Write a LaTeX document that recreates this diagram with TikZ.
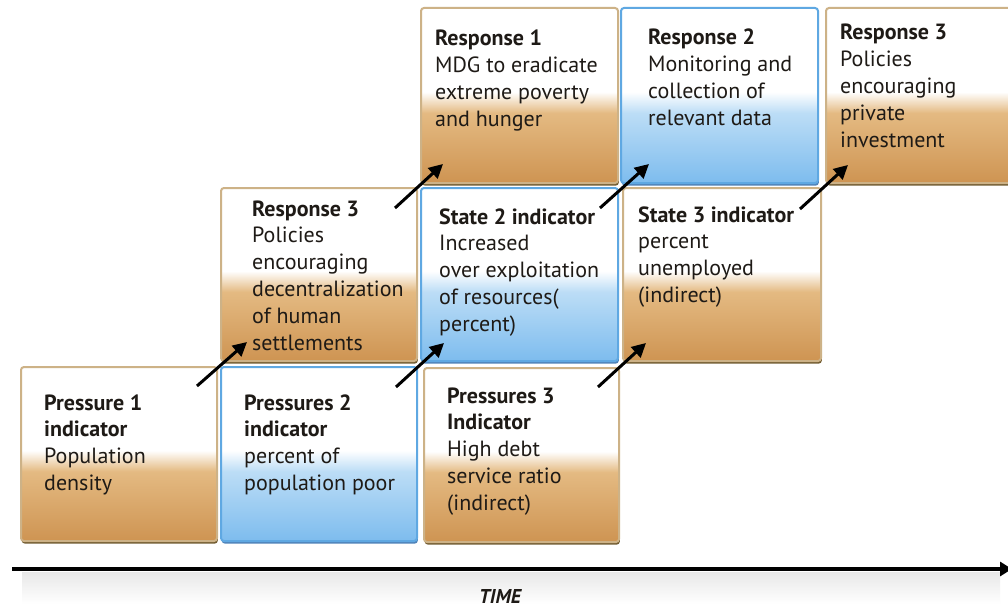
\documentclass[tikz,border=0pt]{standalone}
\usepackage{fontspec}
\setmainfont{PT Sans}
\usetikzlibrary{arrows.meta,shadows}
\definecolor{tanD}{RGB}{206,148,82}
\definecolor{tanM}{RGB}{228,186,130}
\definecolor{tanE}{RGB}{205,178,135}
\definecolor{tanS}{RGB}{100,76,28}
\definecolor{bluD}{RGB}{125,188,238}
\definecolor{bluM}{RGB}{188,221,246}
\definecolor{bluE}{RGB}{95,168,226}
\definecolor{bluS}{RGB}{60,118,178}
\definecolor{ink}{RGB}{30,26,22}
\pgfdeclareverticalshading{tanshade}{100bp}{color(0bp)=(tanD); color(25bp)=(tanD); color(45bp)=(tanM); color(51bp)=(white); color(75bp)=(white); color(100bp)=(white)}
\pgfdeclareverticalshading{blushade}{100bp}{color(0bp)=(bluD); color(25bp)=(bluD); color(45bp)=(bluM); color(51bp)=(white); color(75bp)=(white); color(100bp)=(white)}
\tikzset{
  box/.style={rectangle, rounded corners=3pt, line width=2pt, anchor=north west,
    minimum width=#1, minimum height=174pt, inner sep=0pt},
  box/.default=196pt,
  tanbox/.style={box=#1, draw=tanE, shading=tanshade,
    drop shadow={shadow xshift=0.8pt, shadow yshift=-2.6pt, fill=tanS, opacity=0.9}},
  tanbox/.default=196pt,
  blubox/.style={box=#1, draw=bluE, shading=blushade,
    drop shadow={shadow xshift=0.8pt, shadow yshift=-2.6pt, fill=bluS, opacity=0.9}},
  blubox/.default=196pt,
  txt/.style={anchor=base west, align=left, inner sep=0pt, text=ink,
    font=\fontsize{22}{26.8}\selectfont},
  conn/.style={line width=3pt, draw=black, -{Triangle[length=14pt,width=14pt]}},
  timeline/.style={line width=3.2pt, draw=black, -{Triangle[length=12pt,width=14pt]}},
}
\begin{document}
\begin{tikzpicture}[x=1pt,y=-1pt]
\useasboundingbox (0,0) rectangle (1008,607);
\clip (0,0) rectangle (1008,607);
\fill[white] (0,0) rectangle (1008,607);
% time band
\shade[top color=black!9, bottom color=white] (22,572) rectangle (1000,604);
% boxes row 1
\node[tanbox] (p1) at (20,366) {};
\node[blubox] (p2) at (220,366) {};
\node[tanbox=195pt] (p3) at (423,367) {};
% row 2
\node[tanbox=196pt, minimum height=173pt] (r3a) at (220,187) {};
\node[blubox=197pt, minimum height=173pt] (s2) at (420,187) {};
\node[tanbox=198pt, minimum height=173pt] (s3) at (622,187) {};
% row 3
\node[tanbox=197pt, minimum height=175pt] (r1) at (420,7) {};
\node[blubox=197pt, minimum height=175pt] (r2) at (620,7) {};
\node[tanbox=200pt, minimum height=175pt] (r3b) at (825,7) {};
% texts (anchored at the baseline of their last line)
\node[txt] (t1) at (44,490.4) {\textbf{Pressure 1}\\\textbf{indicator}\\Population\\density};
\node[txt] (t2) at (244,490.4) {\textbf{Pressures 2}\\\textbf{indicator}\\percent of\\population poor};
\node[txt] (t3) at (447,510.2) {\textbf{Pressures 3}\\\textbf{Indicator}\\High debt\\service ratio\\(indirect)};
\node[txt] (t4) at (252,350) {\textbf{Response 3}\\Policies\\encouraging\\decentralization\\of human\\settlements};
\node[txt] (t5) at (439,331.2) {\textbf{State 2 indicator}\\Increased\\over exploitation\\of resources(\\percent)};
\node[txt] (t6) at (638,302.4) {\textbf{State 3 indicator}\\percent\\unemployed\\(indirect)};
\node[txt] (t7) at (435,126.4) {\textbf{Response 1}\\MDG to eradicate\\extreme poverty\\and hunger};
\node[txt] (t8) at (648,125.4) {\textbf{Response 2}\\Monitoring and\\collection of\\relevant data};
\node[txt] (t9) at (840,147.2) {\textbf{Response 3}\\Policies\\encouraging\\private\\investment};
% arrow end points
\coordinate (a1s) at (197,386); \coordinate (a1e) at (247,342);
\coordinate (a2s) at (396,387); \coordinate (a2e) at (444,343);
\coordinate (a3s) at (598,387); \coordinate (a3e) at (646,343);
\coordinate (a4s) at (395,208); \coordinate (a4e) at (443,164);
\coordinate (a5s) at (600,208); \coordinate (a5e) at (649,164);
\coordinate (a6s) at (800,209); \coordinate (a6e) at (848,165);
\draw[conn] (a1s) -- (a1e);
\draw[conn] (a2s) -- (a2e);
\draw[conn] (a3s) -- (a3e);
\draw[conn] (a4s) -- (a4e);
\draw[conn] (a5s) -- (a5e);
\draw[conn] (a6s) -- (a6e);
% time axis
\coordinate (ts) at (12,569);
\coordinate (te) at (1012,569);
\draw[timeline] (ts) -- (te);
\node[font=\fontsize{20}{22}\selectfont\bfseries\itshape, text=ink] (time) at (500,596) {TIME};
\end{tikzpicture}
\end{document}
